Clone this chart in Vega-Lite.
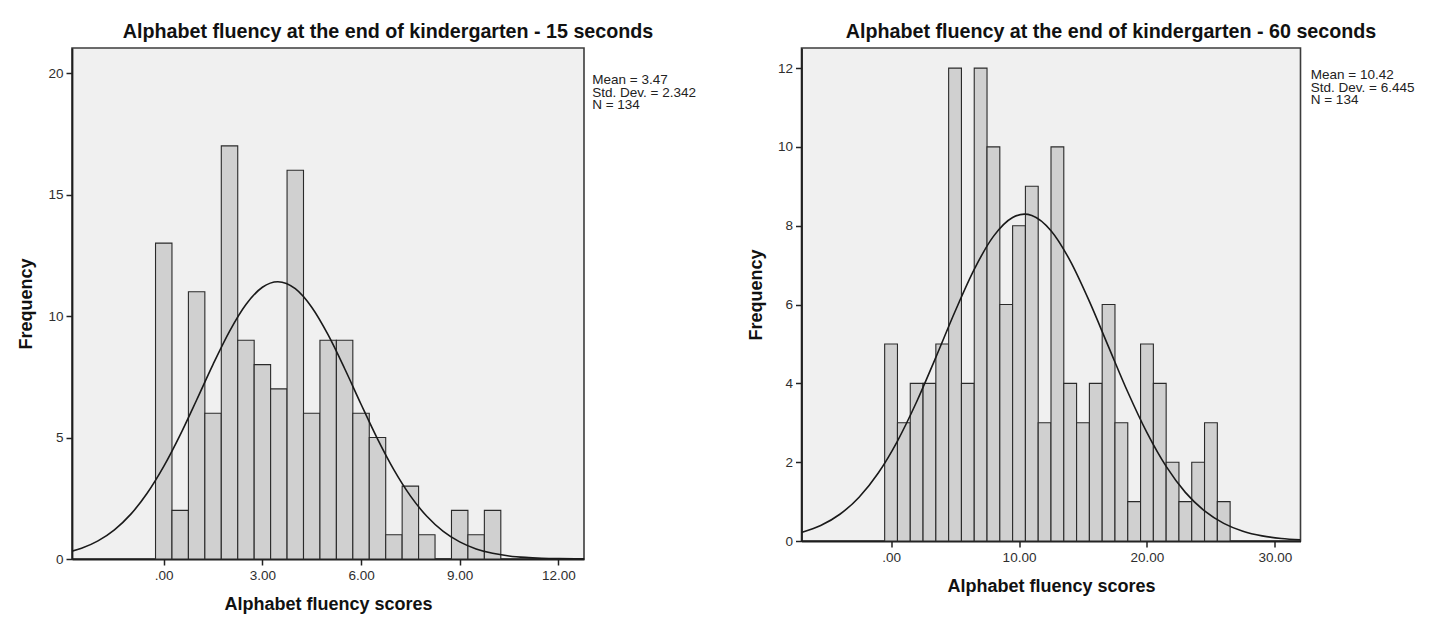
{
  "$schema": "https://vega.github.io/schema/vega-lite/v6.json",
  "background": "#ffffff",
  "padding": {"left": 17, "top": 21, "right": 10, "bottom": 10},
  "spacing": 49.5,
  "datasets": {
    "hist15": [
      {"score": 0.0, "lo": -0.25, "hi": 0.25, "frequency": 13},
      {"score": 0.5, "lo": 0.25, "hi": 0.75, "frequency": 2},
      {"score": 1.0, "lo": 0.75, "hi": 1.25, "frequency": 11},
      {"score": 1.5, "lo": 1.25, "hi": 1.75, "frequency": 6},
      {"score": 2.0, "lo": 1.75, "hi": 2.25, "frequency": 17},
      {"score": 2.5, "lo": 2.25, "hi": 2.75, "frequency": 9},
      {"score": 3.0, "lo": 2.75, "hi": 3.25, "frequency": 8},
      {"score": 3.5, "lo": 3.25, "hi": 3.75, "frequency": 7},
      {"score": 4.0, "lo": 3.75, "hi": 4.25, "frequency": 16},
      {"score": 4.5, "lo": 4.25, "hi": 4.75, "frequency": 6},
      {"score": 5.0, "lo": 4.75, "hi": 5.25, "frequency": 9},
      {"score": 5.5, "lo": 5.25, "hi": 5.75, "frequency": 9},
      {"score": 6.0, "lo": 5.75, "hi": 6.25, "frequency": 6},
      {"score": 6.5, "lo": 6.25, "hi": 6.75, "frequency": 5},
      {"score": 7.0, "lo": 6.75, "hi": 7.25, "frequency": 1},
      {"score": 7.5, "lo": 7.25, "hi": 7.75, "frequency": 3},
      {"score": 8.0, "lo": 7.75, "hi": 8.25, "frequency": 1},
      {"score": 8.5, "lo": 8.25, "hi": 8.75, "frequency": 0},
      {"score": 9.0, "lo": 8.75, "hi": 9.25, "frequency": 2},
      {"score": 9.5, "lo": 9.25, "hi": 9.75, "frequency": 1},
      {"score": 10.0, "lo": 9.75, "hi": 10.25, "frequency": 2}
    ],
    "hist60": [
      {"score": 0, "lo": -0.5, "hi": 0.5, "frequency": 5},
      {"score": 1, "lo": 0.5, "hi": 1.5, "frequency": 3},
      {"score": 2, "lo": 1.5, "hi": 2.5, "frequency": 4},
      {"score": 3, "lo": 2.5, "hi": 3.5, "frequency": 4},
      {"score": 4, "lo": 3.5, "hi": 4.5, "frequency": 5},
      {"score": 5, "lo": 4.5, "hi": 5.5, "frequency": 12},
      {"score": 6, "lo": 5.5, "hi": 6.5, "frequency": 4},
      {"score": 7, "lo": 6.5, "hi": 7.5, "frequency": 12},
      {"score": 8, "lo": 7.5, "hi": 8.5, "frequency": 10},
      {"score": 9, "lo": 8.5, "hi": 9.5, "frequency": 6},
      {"score": 10, "lo": 9.5, "hi": 10.5, "frequency": 8},
      {"score": 11, "lo": 10.5, "hi": 11.5, "frequency": 9},
      {"score": 12, "lo": 11.5, "hi": 12.5, "frequency": 3},
      {"score": 13, "lo": 12.5, "hi": 13.5, "frequency": 10},
      {"score": 14, "lo": 13.5, "hi": 14.5, "frequency": 4},
      {"score": 15, "lo": 14.5, "hi": 15.5, "frequency": 3},
      {"score": 16, "lo": 15.5, "hi": 16.5, "frequency": 4},
      {"score": 17, "lo": 16.5, "hi": 17.5, "frequency": 6},
      {"score": 18, "lo": 17.5, "hi": 18.5, "frequency": 3},
      {"score": 19, "lo": 18.5, "hi": 19.5, "frequency": 1},
      {"score": 20, "lo": 19.5, "hi": 20.5, "frequency": 5},
      {"score": 21, "lo": 20.5, "hi": 21.5, "frequency": 4},
      {"score": 22, "lo": 21.5, "hi": 22.5, "frequency": 2},
      {"score": 23, "lo": 22.5, "hi": 23.5, "frequency": 1},
      {"score": 24, "lo": 23.5, "hi": 24.5, "frequency": 2},
      {"score": 25, "lo": 24.5, "hi": 25.5, "frequency": 3},
      {"score": 26, "lo": 25.5, "hi": 26.5, "frequency": 1}
    ],
    "curve15": [
      {"score": -2.79, "expected": 0.321},
      {"score": -2.5, "expected": 0.443},
      {"score": -2.0, "expected": 0.746},
      {"score": -1.5, "expected": 1.201},
      {"score": -1.0, "expected": 1.846},
      {"score": -0.5, "expected": 2.713},
      {"score": 0.0, "expected": 3.808},
      {"score": 0.5, "expected": 5.107},
      {"score": 1.0, "expected": 6.544},
      {"score": 1.5, "expected": 8.012},
      {"score": 2.0, "expected": 9.372},
      {"score": 2.5, "expected": 10.475},
      {"score": 3.0, "expected": 11.185},
      {"score": 3.47, "expected": 11.413},
      {"score": 4.0, "expected": 11.124},
      {"score": 4.5, "expected": 10.361},
      {"score": 5.0, "expected": 9.220},
      {"score": 5.5, "expected": 7.839},
      {"score": 6.0, "expected": 6.368},
      {"score": 6.5, "expected": 4.942},
      {"score": 7.0, "expected": 3.665},
      {"score": 7.5, "expected": 2.597},
      {"score": 8.0, "expected": 1.758},
      {"score": 8.5, "expected": 1.137},
      {"score": 9.0, "expected": 0.703},
      {"score": 9.5, "expected": 0.415},
      {"score": 10.0, "expected": 0.234},
      {"score": 10.5, "expected": 0.126},
      {"score": 11.0, "expected": 0.065},
      {"score": 11.5, "expected": 0.032},
      {"score": 12.0, "expected": 0.015},
      {"score": 12.5, "expected": 0.007},
      {"score": 12.78, "expected": 0.004}
    ],
    "curve60": [
      {"score": -7.0, "expected": 0.215},
      {"score": -5.5, "expected": 0.393},
      {"score": -4.0, "expected": 0.679},
      {"score": -2.5, "expected": 1.112},
      {"score": -1.0, "expected": 1.726},
      {"score": 0.5, "expected": 2.537},
      {"score": 2.0, "expected": 3.533},
      {"score": 3.5, "expected": 4.661},
      {"score": 5.0, "expected": 5.824},
      {"score": 6.5, "expected": 6.894},
      {"score": 8.0, "expected": 7.730},
      {"score": 9.5, "expected": 8.210},
      {"score": 10.42, "expected": 8.294},
      {"score": 11.0, "expected": 8.261},
      {"score": 12.5, "expected": 7.874},
      {"score": 14.0, "expected": 7.109},
      {"score": 15.5, "expected": 6.080},
      {"score": 17.0, "expected": 4.926},
      {"score": 18.5, "expected": 3.780},
      {"score": 20.0, "expected": 2.748},
      {"score": 21.5, "expected": 1.892},
      {"score": 23.0, "expected": 1.234},
      {"score": 24.5, "expected": 0.763},
      {"score": 26.0, "expected": 0.447},
      {"score": 27.5, "expected": 0.248},
      {"score": 29.0, "expected": 0.130},
      {"score": 30.5, "expected": 0.065},
      {"score": 32.0, "expected": 0.031}
    ]
  },
  "config": {
    "font": "Liberation Sans",
    "view": {"fill": "#f0f0f0", "stroke": "#3c3c3c", "strokeWidth": 1.6},
    "axis": {
      "grid": false,
      "domainColor": "#1e1e1e",
      "domainWidth": 1.8,
      "tickColor": "#222222",
      "tickWidth": 1.5,
      "tickSize": 6,
      "labelFont": "Liberation Sans",
      "labelFontSize": 13.5,
      "labelColor": "#2e2e2e",
      "labelPadding": 3,
      "titleFont": "Liberation Sans",
      "titleFontSize": 18,
      "titleFontWeight": "bold",
      "titleColor": "#111111"
    },
    "title": {
      "font": "Liberation Sans",
      "fontSize": 19.7,
      "fontWeight": "bold",
      "color": "#111111",
      "anchor": "middle"
    }
  },
  "hconcat": [
    {
      "width": 512,
      "height": 511,
      "title": {"text": "Alphabet fluency at the end of kindergarten - 15 seconds", "dx": 60, "offset": 6},
      "layer": [
        {
          "data": {"name": "hist15"},
          "mark": {"type": "rect", "fill": "#d0d0d0", "stroke": "#2a2a2a", "strokeWidth": 1.1},
          "encoding": {
            "x": {
              "field": "lo", "type": "quantitative",
              "scale": {"domain": [-2.79, 12.78], "nice": false, "zero": false},
              "axis": {
                "title": "Alphabet fluency scores",
                "values": [0, 3, 6, 9, 12],
                "labelExpr": "datum.value == 0 ? '.00' : format(datum.value, '.2f')",
                "titlePadding": 14
              }
            },
            "x2": {"field": "hi"},
            "y": {
              "field": "frequency", "type": "quantitative",
              "scale": {"domain": [0, 21.03], "nice": false},
              "axis": {"title": "Frequency", "values": [0, 5, 10, 15, 20], "titlePadding": 12}
            }
          }
        },
        {
          "data": {"name": "curve15"},
          "mark": {"type": "line", "interpolate": "monotone", "color": "#1a1a1a", "strokeWidth": 1.6, "clip": true},
          "encoding": {
            "x": {"field": "score", "type": "quantitative"},
            "y": {"field": "expected", "type": "quantitative"}
          }
        },
        {
          "data": {"values": [{"stat": "summary"}]},
          "mark": {"type": "text", "align": "left", "baseline": "top", "fontSize": 13.5, "lineHeight": 12.5, "color": "#222222"},
          "encoding": {
            "x": {"datum": 13.03},
            "y": {"datum": 20.0},
            "text": {"value": ["Mean = 3.47", "Std. Dev. = 2.342", "N = 134"]}
          }
        }
      ]
    },
    {
      "width": 499,
      "height": 493,
      "title": {"text": "Alphabet fluency at the end of kindergarten - 60 seconds", "dx": 60, "offset": 6},
      "layer": [
        {
          "data": {"name": "hist60"},
          "mark": {"type": "rect", "fill": "#d0d0d0", "stroke": "#2a2a2a", "strokeWidth": 1.1},
          "encoding": {
            "x": {
              "field": "lo", "type": "quantitative",
              "scale": {"domain": [-7.0, 32.0], "nice": false, "zero": false},
              "axis": {
                "title": "Alphabet fluency scores",
                "values": [0, 10, 20, 30],
                "labelExpr": "datum.value == 0 ? '.00' : format(datum.value, '.2f')",
                "titlePadding": 14
              }
            },
            "x2": {"field": "hi"},
            "y": {
              "field": "frequency", "type": "quantitative",
              "scale": {"domain": [0, 12.51], "nice": false},
              "axis": {"title": "Frequency", "values": [0, 2, 4, 6, 8, 10, 12], "titlePadding": 12}
            }
          }
        },
        {
          "data": {"name": "curve60"},
          "mark": {"type": "line", "interpolate": "monotone", "color": "#1a1a1a", "strokeWidth": 1.6, "clip": true},
          "encoding": {
            "x": {"field": "score", "type": "quantitative"},
            "y": {"field": "expected", "type": "quantitative"}
          }
        },
        {
          "data": {"values": [{"stat": "summary"}]},
          "mark": {"type": "text", "align": "left", "baseline": "top", "fontSize": 13.5, "lineHeight": 12.5, "color": "#222222"},
          "encoding": {
            "x": {"datum": 32.8},
            "y": {"datum": 12.0},
            "text": {"value": ["Mean = 10.42", "Std. Dev. = 6.445", "N = 134"]}
          }
        }
      ]
    }
  ]
}
